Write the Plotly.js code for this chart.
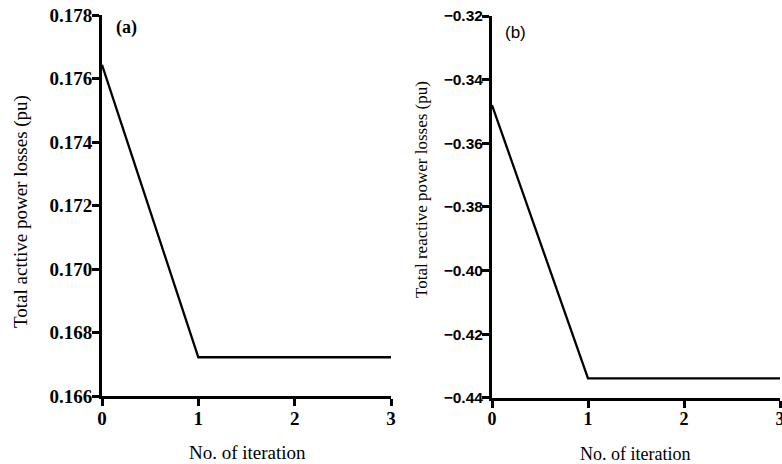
<!DOCTYPE html>
<html>
<head>
<meta charset="utf-8">
<script src="https://cdn.plot.ly/plotly-3.0.1.min.js"></script>
<style>html,body{margin:0;padding:0;background:#fff;}#chart{width:782px;height:464px;}</style>
</head>
<body>
<div id="chart"></div>
<script>
const iterations = [0, 1, 2, 3];
const activeLoss = [0.17643, 0.16722, 0.16722, 0.16722];
const reactiveLoss = [-0.348, -0.4339, -0.4339, -0.4339];
const xTicks = [0, 1, 2, 3];
const activeTicks = [0.166, 0.168, 0.170, 0.172, 0.174, 0.176, 0.178];
const reactiveTicks = [-0.44, -0.42, -0.40, -0.38, -0.36, -0.34, -0.32];
const xTitle = 'No. of iteration';
const activeTitle = 'Total acttive power losses (pu)';
const reactiveTitle = 'Total reactive power losses (pu)';
const panelLabels = ['(a)', '(b)'];

const SERIF = 'Liberation Serif, Times New Roman, serif';
const SANS = 'Liberation Sans, Arial, sans-serif';
const W = 782, H = 464;

const traces = [
  {x: iterations, y: activeLoss, xaxis: 'x', yaxis: 'y', mode: 'lines',
   line: {color: '#000', width: 2.3}, cliponaxis: false, hoverinfo: 'skip'},
  {x: iterations, y: reactiveLoss, xaxis: 'x2', yaxis: 'y2', mode: 'lines',
   line: {color: '#000', width: 2.3}, cliponaxis: false, hoverinfo: 'skip'}
];

function axisBase() {
  return {showgrid: false, zeroline: false, showline: true, linewidth: 3, linecolor: '#000',
    ticks: 'outside', ticklen: 7, tickwidth: 3, tickcolor: '#000',
    ticklabeloverflow: 'allow', ticklabelstandoff: -4};
}
function xAxis(domain, anchor, size) {
  return Object.assign(axisBase(), {domain: domain, anchor: anchor, range: [0, 3], tickvals: xTicks,
    tickfont: {family: SERIF, size: size, color: '#000', weight: 'bold'}});
}
function yAxis(domain, anchor, range, ticks, fmt, font) {
  return Object.assign(axisBase(), {domain: domain, anchor: anchor, range: range, tickvals: ticks,
    tickformat: fmt, tickfont: font});
}

const layout = {
  width: W, height: H,
  margin: {l: 0, r: 0, t: 0, b: 0},
  paper_bgcolor: '#fff', plot_bgcolor: '#fff',
  showlegend: false,
  xaxis: xAxis([102 / W, 391 / W], 'y', 19),
  yaxis: yAxis([1 - 396 / H, 1 - 15 / H], 'x', [0.166, 0.178], activeTicks, '.3f',
    {family: SERIF, size: 19, color: '#000', weight: 'bold'}),
  xaxis2: xAxis([492 / W, 780 / W], 'y2', 18),
  yaxis2: yAxis([1 - 397.7 / H, 1 - 16 / H], 'x2', [-0.44, -0.32], reactiveTicks, '.2f',
    {family: SANS, size: 15.5, color: '#000', weight: 'bold'}),
  annotations: [
    {text: xTitle, xref: 'paper', yref: 'paper', x: 247 / W, y: 1 - 452 / H,
     xanchor: 'center', yanchor: 'middle',
     showarrow: false, font: {family: SERIF, size: 19, color: '#000'}},
    {text: xTitle, xref: 'paper', yref: 'paper', x: 635 / W, y: 1 - 454 / H,
     xanchor: 'center', yanchor: 'middle',
     showarrow: false, font: {family: SERIF, size: 18, color: '#000'}},
    {text: activeTitle, xref: 'paper', yref: 'paper', x: 21 / W, y: 1 - 212 / H,
     xanchor: 'center', yanchor: 'middle',
     textangle: -90, showarrow: false, font: {family: SERIF, size: 19, color: '#000'}},
    {text: reactiveTitle, xref: 'paper', yref: 'paper', x: 421 / W, y: 1 - 190 / H,
     xanchor: 'center', yanchor: 'middle',
     textangle: -90, showarrow: false, font: {family: SERIF, size: 17, color: '#000'}},
    {text: panelLabels[0], xref: 'paper', yref: 'paper', x: 126 / W, y: 1 - 27 / H,
     xanchor: 'center', yanchor: 'middle',
     showarrow: false, font: {family: SERIF, size: 18, color: '#000', weight: 'bold'}},
    {text: panelLabels[1], xref: 'paper', yref: 'paper', x: 515 / W, y: 1 - 33 / H,
     xanchor: 'center', yanchor: 'middle',
     showarrow: false, font: {family: SANS, size: 17, color: '#000'}}
  ]
};

Plotly.newPlot('chart', traces, layout, {staticPlot: true, displayModeBar: false});
</script>
</body>
</html>
